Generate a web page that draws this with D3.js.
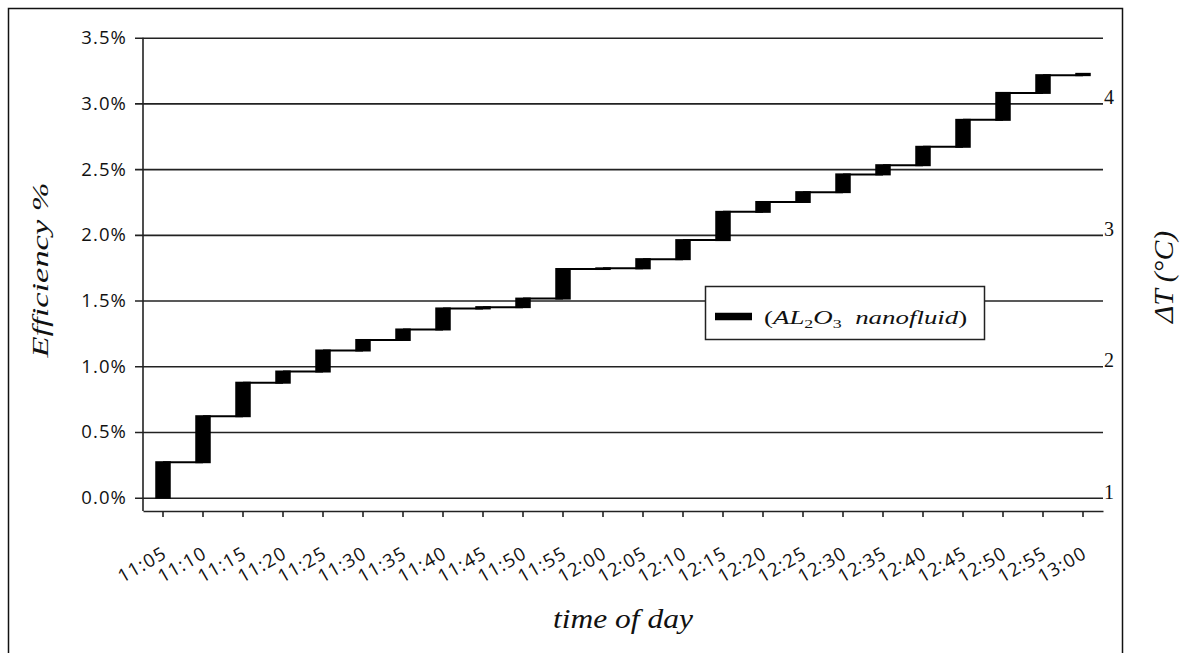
<!DOCTYPE html>
<html>
<head>
<meta charset="utf-8">
<script src="https://cdn.jsdelivr.net/npm/d3@7"></script>
<style>
  html, body { margin: 0; padding: 0; background: #fff; }
  svg { display: block; }
  .tick-label { font-family: "Open Sans", sans-serif; font-size: 18.5px; fill: #111; letter-spacing: 1.1px; }
</style>
</head>
<body>
<svg id="chart" width="1181" height="653"></svg>
<script>
// Sampling times (5-minute steps)
const times = ["11:05","11:10","11:15","11:20","11:25","11:30","11:35","11:40","11:45","11:50",
               "11:55","12:00","12:05","12:10","12:15","12:20","12:25","12:30","12:35","12:40",
               "12:45","12:50","12:55","13:00"];

// Efficiency of the collector with Al2O3 nanofluid, in percent
const efficiency = [0.27, 0.62, 0.875, 0.96, 1.12, 1.20, 1.28, 1.44, 1.45, 1.515,
                    1.74, 1.745, 1.815, 1.96, 2.175, 2.25, 2.325, 2.46, 2.53, 2.67,
                    2.875, 3.08, 3.215, 3.225];

// Left axis ticks (percent) and right axis ticks (temperature difference, °C)
const efficiencyTicks = [0, 0.5, 1.0, 1.5, 2.0, 2.5, 3.0, 3.5];
const deltaTTicks = [1, 2, 3, 4];

const SERIF = "'Liberation Serif', 'Times New Roman', Tinos, 'DejaVu Serif', serif";

const svg = d3.select("#chart");

const plot = { left: 143, right: 1103, top: 37.7, zero: 497.7, axisY: 511 };

const x = d3.scaleBand().domain(times).range([plot.left, plot.right]).padding(0);
const y = d3.scaleLinear().domain([0, 3.5]).range([plot.zero, plot.top]);
// ΔT scale shares the grid: 1 °C sits on 0 %, 4 °C on 3 %
const yRight = d3.scaleLinear().domain([1, 4]).range([y(0), y(3)]);

const fmt = d => d3.format(".1f")(d) + "%";

// Outer frame
svg.append("path")
  .attr("d", "M8.5,653 V8.5 H1122.5 V653")
  .attr("fill", "none").attr("stroke", "#111").attr("stroke-width", 1.5);

// Horizontal gridlines with left tick stubs
const yAxis = d3.axisLeft(y).tickValues(efficiencyTicks).tickFormat(fmt)
  .tickSize(-(plot.right - plot.left)).tickPadding(10);
const gy = svg.append("g").attr("transform", `translate(${plot.left},0)`).call(yAxis);
gy.select(".domain").remove();
gy.selectAll(".tick line").attr("x1", -8).attr("stroke", "#222").attr("stroke-width", 1.6);
gy.selectAll(".tick text").attr("class", "tick-label").attr("dx", "-6");

// Vertical axis line
svg.append("line")
  .attr("x1", plot.left).attr("x2", plot.left)
  .attr("y1", plot.top).attr("y2", plot.axisY)
  .attr("stroke", "#222").attr("stroke-width", 1.6);

// Category axis (sits below the 0 % line)
const xAxis = d3.axisBottom(x).tickSize(6).tickSizeOuter(0);
const gx = svg.append("g").attr("transform", `translate(0,${plot.axisY})`).call(xAxis);
gx.select(".domain").attr("stroke", "#222").attr("stroke-width", 1.6);
gx.selectAll(".tick line").attr("stroke", "#222").attr("stroke-width", 1.6);
gx.selectAll(".tick text")
  .attr("class", "tick-label")
  .attr("text-anchor", "end")
  .attr("transform", "translate(5,46) rotate(-30)")
  .attr("y", 0).attr("dy", 0);

// Right-hand ΔT labels
svg.append("g").selectAll("text")
  .data(deltaTTicks).join("text")
  .attr("font-family", SERIF)
  .attr("fill", "#111")
  .attr("x", plot.right + 1)
  .attr("y", d => yRight(d) + 1)
  .attr("font-size", 20)
  .text(d => d);

// Step series: a thin level line from each point to the next, and a solid
// block at each time spanning the rise from the previous reading.
const cx = d => x(d) + x.bandwidth() / 2;
const barW = 15.5;

const steps = efficiency.slice(0, -1).map((v, i) => ({ from: times[i], to: times[i + 1], v }));
svg.append("g").selectAll("line")
  .data(steps).join("line")
  .attr("x1", d => cx(d.from)).attr("x2", d => cx(d.to))
  .attr("y1", d => y(d.v)).attr("y2", d => y(d.v))
  .attr("stroke", "#000").attr("stroke-width", 2);

const blocks = efficiency.map((v, i) => ({ t: times[i], lo: i === 0 ? 0 : efficiency[i - 1], hi: v }));
svg.append("g").selectAll("rect")
  .data(blocks).join("rect")
  .attr("x", d => cx(d.t) - barW / 2)
  .attr("width", barW)
  .attr("y", d => y(d.hi) - 1)
  .attr("height", d => Math.max(2.5, y(d.lo) - y(d.hi) + 2))
  .attr("fill", "#000");

// Legend
const lg = svg.append("g");
lg.append("rect")
  .attr("x", 705.5).attr("y", 286.5).attr("width", 279).attr("height", 53)
  .attr("fill", "#fff").attr("stroke", "#222").attr("stroke-width", 1.5);
lg.append("line")
  .attr("x1", 715).attr("x2", 752).attr("y1", 316.5).attr("y2", 316.5)
  .attr("stroke", "#000").attr("stroke-width", 7.5);
const lt = lg.append("text")
  .attr("font-family", SERIF).attr("fill", "#111")
  .attr("transform", "translate(764,324) scale(1.38,1)")
  .attr("font-size", 19.5);
lt.append("tspan").text("(");
lt.append("tspan").attr("font-style", "italic").text("AL");
lt.append("tspan").attr("font-size", 13).attr("dy", 4).text("2");
lt.append("tspan").attr("font-style", "italic").attr("dy", -4).text("O");
lt.append("tspan").attr("font-size", 13).attr("dy", 4).text("3");
lt.append("tspan").attr("font-style", "italic").attr("dy", -4).attr("xml:space", "preserve").text("  nanofluid");
lt.append("tspan").text(")");

// Axis titles
svg.append("text")
  .attr("font-family", SERIF).attr("fill", "#111")
  .attr("font-style", "italic").attr("font-size", 24)
  .attr("text-anchor", "middle")
  .attr("textLength", 175).attr("lengthAdjust", "spacingAndGlyphs")
  .attr("transform", "translate(48,270) rotate(-90)")
  .text("Efficiency %");

svg.append("text")
  .attr("font-family", SERIF).attr("fill", "#111")
  .attr("font-style", "italic").attr("font-size", 27.5)
  .attr("text-anchor", "middle")
  .attr("textLength", 140).attr("lengthAdjust", "spacingAndGlyphs")
  .attr("x", 623).attr("y", 628)
  .text("time of day");

svg.append("text")
  .attr("font-family", SERIF).attr("fill", "#111")
  .attr("font-style", "italic").attr("font-size", 27)
  .attr("text-anchor", "middle")
  .attr("textLength", 92).attr("lengthAdjust", "spacingAndGlyphs")
  .attr("transform", "translate(1173,277) rotate(-90)")
  .text("ΔT (°C)");
</script>
</body>
</html>
